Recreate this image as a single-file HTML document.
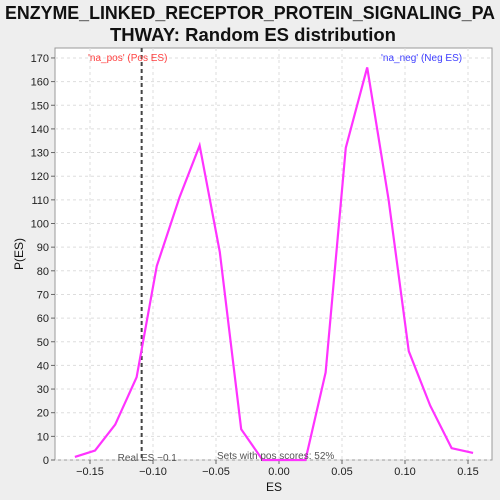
<!DOCTYPE html>
<html><head><meta charset="utf-8"><style>
html,body{margin:0;padding:0;background:#eeeeee;}
svg{display:block;font-family:"Liberation Sans","DejaVu Sans",sans-serif;}
</style></head><body>
<svg id="chart" width="500" height="500" viewBox="0 0 500 500">
<rect x="0" y="0" width="500" height="500" fill="#eeeeee"/>
<text x="5" y="19" textLength="490" lengthAdjust="spacingAndGlyphs" font-size="18" font-weight="bold" fill="#111">ENZYME_LINKED_RECEPTOR_PROTEIN_SIGNALING_PA</text>
<text x="110" y="41" textLength="286" lengthAdjust="spacingAndGlyphs" font-size="18" font-weight="bold" fill="#111">THWAY: Random ES distribution</text>
<rect x="55" y="48" width="437" height="412" fill="#ffffff" stroke="#999"/>
<g id="grid"></g>
<g id="axes"></g>
<g id="marks"></g>
<text x="274" y="491" text-anchor="middle" font-size="12" fill="#111">ES</text>
<text x="23" y="254" text-anchor="middle" font-size="12" fill="#111" transform="rotate(-90 23 254)">P(ES)</text>
<text x="88" y="61" font-size="10" fill="#ff4040">'na_pos' (Pos ES)</text>
<text x="381" y="61" font-size="10" fill="#4040ff">'na_neg' (Neg ES)</text>
<text x="217" y="459" font-size="10" fill="#555">Sets with pos scores: 52%</text>
</svg>
<script>
const esValues = [-0.162,-0.146,-0.130,-0.113,-0.097,-0.079,-0.063,-0.047,-0.030,-0.013,0.021,0.037,0.053,0.070,0.087,0.103,0.120,0.137,0.154];
const densityValues = [1.3,4,15,35,82,111,133,88,13,0,0,37,132,166,110,46,23,5,3];
const xTicks = [-0.15,-0.10,-0.05,0.00,0.05,0.10,0.15];
const xTickLabels = ["-0.15","-0.10","-0.05","0.00","0.05","0.10","0.15"];
const yTicks = [0,10,20,30,40,50,60,70,80,90,100,110,120,130,140,150,160,170];
const realES = -0.109;

const NS="http://www.w3.org/2000/svg";
function xs(v){return 279+v*1260;}
function ys(v){return 460-v*2.365;}
function mk(tag,attrs,parent){const e=document.createElementNS(NS,tag);for(const k in attrs)e.setAttribute(k,attrs[k]);document.getElementById(parent).appendChild(e);return e;}

xTicks.forEach((t,i)=>{
  const g=mk('line',{x1:xs(t),x2:xs(t),y1:48,y2:460,stroke:'#ddd','stroke-dasharray':'3,3'},'grid');
  
  
  const tk=mk('line',{x1:xs(t),x2:xs(t),y1:460,y2:464,stroke:'#666'},'axes');
  
  
  const l=mk('text',{x:xs(t),y:475,'text-anchor':'middle','font-size':'11',fill:'#222'},'axes');
  l.textContent=xTickLabels[i].replace('-','\u2212');
  
  
});
yTicks.forEach(t=>{
  const g=mk('line',{x1:55,x2:492,y1:ys(t),y2:ys(t),stroke:'#ddd','stroke-dasharray':'3,3'},'grid');
  
  
  const tk=mk('line',{x1:51,x2:55,y1:ys(t),y2:ys(t),stroke:'#666'},'axes');
  
  
  const l=mk('text',{x:49,y:ys(t)+4,'text-anchor':'end','font-size':'11',fill:'#222'},'axes');
  l.textContent=t;
  
  
});
const rl=mk('line',{x1:xs(realES),x2:xs(realES),y1:48,y2:460,stroke:'#444','stroke-width':'2','stroke-dasharray':'4,3'},'marks');


const rt=mk('text',{x:xs(realES)-24,y:461,'font-size':'10',fill:'#555'},'marks');
rt.textContent='Real ES \u22120.1';


const pts=esValues.map((v,i)=>xs(v)+','+ys(densityValues[i])).join(' ');
const pl=mk('polyline',{points:pts,fill:'none',stroke:'#ff33ff','stroke-width':'2.2','stroke-linejoin':'miter'},'marks');


</script>
</body></html>
